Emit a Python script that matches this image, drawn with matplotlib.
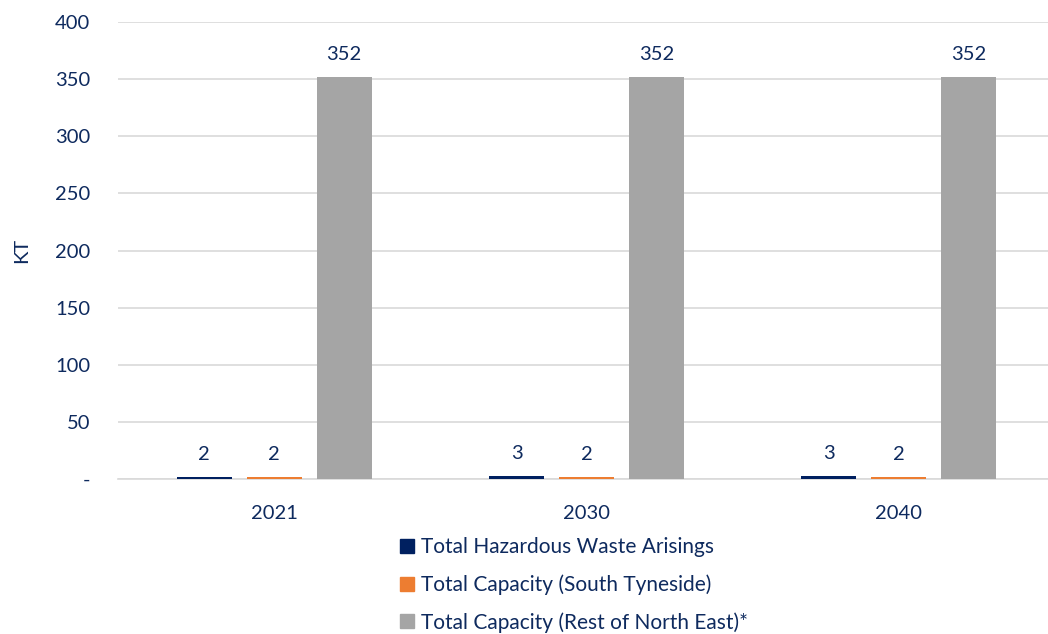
import matplotlib.pyplot as plt
from matplotlib.patches import Patch
import numpy as np

years = ["2021", "2030", "2040"]
arisings = [2, 3, 3]
cap_south_tyneside = [2, 2, 2]
cap_rest_ne = [352, 352, 352]
series_names = ["Total Hazardous Waste Arisings",
                "Total Capacity (South Tyneside)",
                "Total Capacity (Rest of North East)*"]
colors = ["#002060", "#ed7d31", "#a5a5a5"]
text_color = "#0e2a5e"

plt.rcParams["font.family"] = ["Lato", "DejaVu Sans"]

fig = plt.figure(figsize=(10.48, 6.34), dpi=100)
# plot area runs past the right edge, like the original crop
ax = fig.add_axes([118 / 1048, 155 / 634, 937 / 1048, 457 / 634])

x = np.arange(len(years))
width = 0.176
offset = 0.224
for i, vals in enumerate([arisings, cap_south_tyneside, cap_rest_ne]):
    bars = ax.bar(x + (i - 1) * offset, vals, width, color=colors[i], zorder=3)
    for b, v in zip(bars, vals):
        ax.annotate(str(v), (b.get_x() + b.get_width() / 2, b.get_height()),
                    xytext=(0, 10), textcoords="offset points",
                    ha="center", va="bottom", fontsize=14.5, color=text_color)

ax.set_xlim(-0.5, 2.5)
ax.set_ylim(0, 400)
ax.set_yticks(range(0, 401, 50))
ax.set_yticklabels(["-"] + [str(v) for v in range(50, 401, 50)])
ax.set_xticks(x)
ax.set_xticklabels(years)
ax.tick_params(axis="both", length=0, labelsize=14.5, colors=text_color)
ax.tick_params(axis="y", pad=20)
ax.tick_params(axis="x", pad=19)
ax.grid(axis="y", color="#d9d9d9", linewidth=1.2, zorder=0)
for s in ["top", "right", "left"]:
    ax.spines[s].set_visible(False)
ax.spines["bottom"].set_color("#d9d9d9")
ax.spines["bottom"].set_linewidth(1.2)
ax.set_ylabel("KT", fontsize=14.5, color=text_color, labelpad=18)

handles = [Patch(color=c) for c in colors]
fig.legend(handles, series_names, loc="upper left",
           bbox_to_anchor=(392 / 1048, 1 - 529 / 634),
           frameon=False, fontsize=15, labelcolor=text_color,
           handlelength=0.65, handleheight=0.65, handletextpad=0.35,
           labelspacing=0.82, borderaxespad=0)

fig.savefig("out.png", dpi=100)
